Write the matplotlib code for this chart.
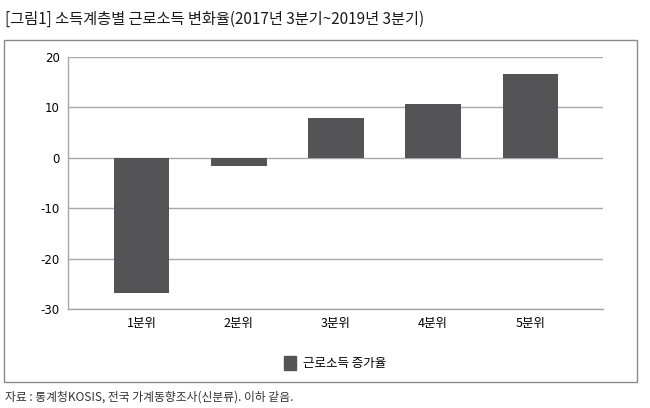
import matplotlib.pyplot as plt
from matplotlib.patches import Rectangle, Patch

plt.rcParams['font.family'] = ['Noto Sans CJK KR', 'DejaVu Sans']

categories = ['1분위', '2분위', '3분위', '4분위', '5분위']
values = [-26.8, -1.7, 7.8, 10.6, 16.7]
yticks = [-30, -20, -10, 0, 10, 20]
series_name = '근로소득 증가율'
title = '[그림1] 소득계층별 근로소득 변화율(2017년 3분기~2019년 3분기)'
source = '자료 : 통계청KOSIS, 전국 가계동향조사(신분류). 이하 같음.'

W, H = 650, 408
fig = plt.figure(figsize=(W / 100, H / 100), dpi=100)

# outer frame
fig.patches.append(Rectangle((4 / W, 1 - 382 / H), 633 / W, 342 / H,
                             transform=fig.transFigure, fill=False,
                             edgecolor='#8a8a8a', linewidth=1.0))

ax = fig.add_axes([68 / W, 1 - 309 / H, 535 / W, 252 / H])
x = range(len(categories))
ax.bar(x, values, width=0.57, color='#545456', zorder=3)
ax.set_xlim(-0.76, 4.75)
ax.set_ylim(-30, 20)
ax.set_yticks(yticks)
ax.set_yticklabels([str(v) for v in yticks], fontsize=8.5, family='Liberation Sans Narrow')
ax.set_xticks(list(x))
ax.set_xticklabels(categories, fontsize=9)
ax.tick_params(length=0, pad=6)
ax.grid(axis='y', color='#a8a8a8', linewidth=1.0, zorder=0)
for s in ['top', 'right']:
    ax.spines[s].set_visible(False)
for s in ['left', 'bottom']:
    ax.spines[s].set_color('#a8a8a8')
    ax.spines[s].set_linewidth(1.0)

fig.legend(handles=[Patch(color='#545456', label=series_name)],
           loc='center', bbox_to_anchor=(335 / W, 1 - 363 / H),
           frameon=False, fontsize=9, handlelength=1.0, handleheight=1.4,
           handletextpad=0.5)

fig.text(5 / W, 1 - 19 / H, title, fontsize=11, fontweight='medium',
         va='center', ha='left', color='#1a1a1a')
fig.text(5 / W, 1 - 397 / H, source, fontsize=8.5, va='center', ha='left', color='#333333')

fig.savefig('out.png', dpi=100)
